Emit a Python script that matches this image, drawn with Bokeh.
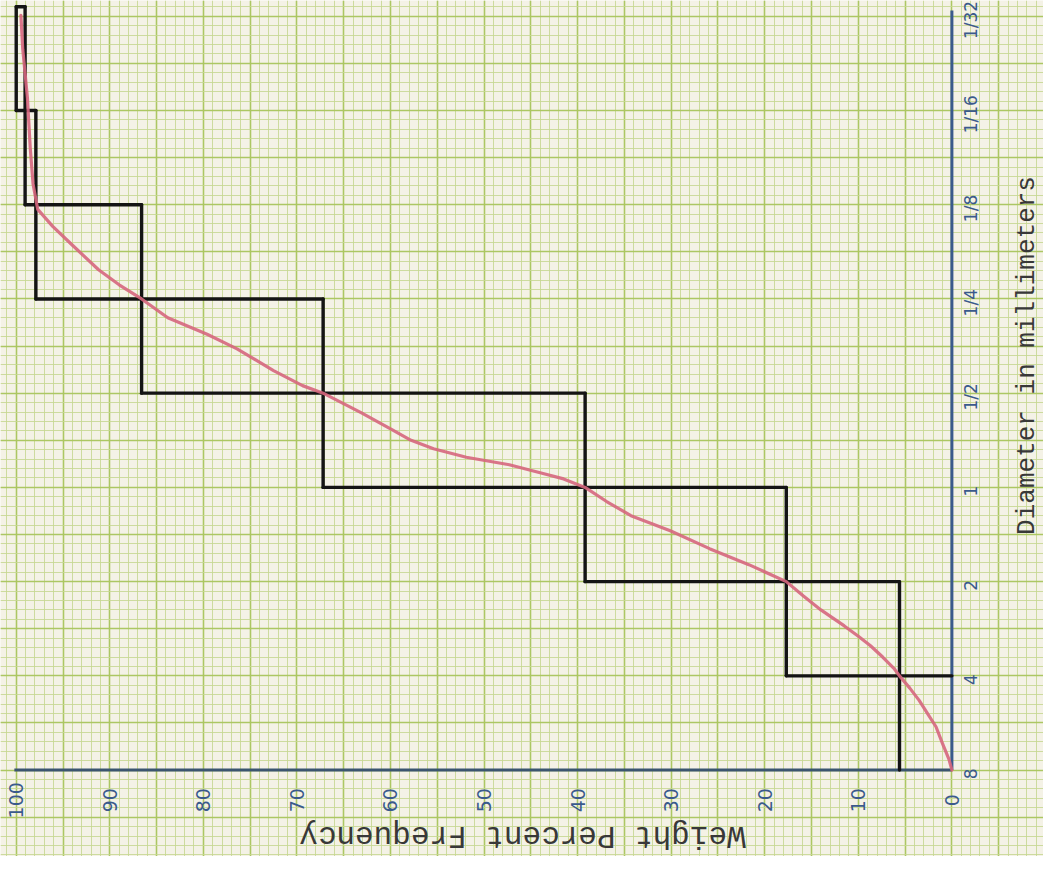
import numpy as np
from bokeh.plotting import figure
from bokeh.models import Range1d, Grid, SingleIntervalTicker
from bokeh.core.properties import value
from bokeh.embed import file_html
from bokeh.resources import INLINE

# ---------------- data ----------------
diam_labels = ["8", "4", "2", "1", "1/2", "1/4", "1/8", "1/16", "1/32"]
diam_phi = [-3, -2, -1, 0, 1, 2, 3, 4, 5]          # log2 position of each diameter (8 mm = -3)
cum_pct = [0.0, 5.6, 17.7, 39.2, 67.2, 86.6, 97.9, 99.05, 100.0]  # cumulative weight % at each diameter
pct_ticks = [0, 10, 20, 30, 40, 50, 60, 70, 80, 90, 100]

curve_pct = [0.0, 0.3, 1.0, 1.7, 2.6, 3.5, 4.5, 5.6, 6.2, 7.4, 8.7, 10.0, 11.5, 14.0,
             15.9, 17.7, 21.7, 25.9, 30.1, 34.3, 36.9, 39.2, 41.5, 43.8, 47.3, 51.9,
             55.4, 57.8, 59.8, 63.1, 67.2, 69.4, 72.5, 76.4, 79.6, 83.8, 86.6, 89.0,
             91.2, 94.1, 96.1, 97.7, 98.2, 98.5, 98.8, 99.3, 99.5]
curve_phi = [-3.0, -2.89, -2.72, -2.54, -2.40, -2.26, -2.13, -2.0, -1.92, -1.80, -1.68,
             -1.58, -1.47, -1.30, -1.15, -1.0, -0.82, -0.65, -0.46, -0.30, -0.15, 0.0,
             0.09, 0.15, 0.24, 0.32, 0.41, 0.50, 0.61, 0.79, 1.0, 1.08, 1.24, 1.47,
             1.625, 1.80, 2.0, 2.15, 2.31, 2.58, 2.77, 2.95, 3.22, 3.6, 4.13, 4.65, 5.01]

x_title = "Weight Percent Frequency"
y_title = "Diameter in millimeters"

# ---------------- figure ----------------
W, H = 1043, 856
p = figure(width=W, height=H, output_backend="svg", toolbar_location=None,
           x_range=Range1d(101.68, -9.79), y_range=Range1d(-3.917, 5.167),
           x_axis_location=None, y_axis_location=None, min_border=0,
           background_fill_color="#f4f2e6", border_fill_color="#f4f2e6",
           outline_line_color=None)

# graph-paper grid
for dim, iv in ((0, 5), (1, 0.5)):
    g = Grid(dimension=dim, ticker=SingleIntervalTicker(interval=iv, num_minor_ticks=5),
             grid_line_color="#a8c45c", grid_line_width=1.6, grid_line_alpha=0.9,
             minor_grid_line_color="#c5d791", minor_grid_line_width=1, minor_grid_line_alpha=0.85)
    p.add_layout(g)

ink = "#3a5a8c"
top_cap = 5.1

# axes lines (hand drawn)
p.segment(x0=[0], y0=[diam_phi[0]], x1=[0], y1=[5.06], line_color=ink, line_width=3)
p.segment(x0=[pct_ticks[-1] + 0.2], y0=[diam_phi[0]], x1=[pct_ticks[0]], y1=[diam_phi[0]],
          line_color="#3b566f", line_width=3)

# step histogram lines
vx0, vy0, vx1, vy1 = [], [], [], []
for k in range(1, len(cum_pct)):
    y0 = diam_phi[k] - 1
    y1 = diam_phi[k] + 1 if diam_phi[k] + 1 < diam_phi[-1] else top_cap
    vx0.append(cum_pct[k]); vx1.append(cum_pct[k]); vy0.append(y0); vy1.append(y1)
for k in range(1, len(cum_pct) - 1):
    vx0.append(cum_pct[k + 1]); vx1.append(cum_pct[k - 1])
    vy0.append(diam_phi[k]); vy1.append(diam_phi[k])
vx0.append(cum_pct[-1]); vx1.append(cum_pct[-2]); vy0.append(top_cap); vy1.append(top_cap)
p.segment(x0=vx0, y0=vy0, x1=vx1, y1=vy1, line_color="#141414", line_width=3.4,
          line_cap="round")

# smooth cumulative curve
p.line(curve_pct, curve_phi, line_color="#d6667d", line_width=3.2, line_alpha=0.9,
       line_join="round", line_cap="round")

# tick labels
p.text(x=pct_ticks, y=[-3.32] * len(pct_ticks), text=[str(t) for t in pct_ticks],
       angle=np.pi / 2, text_font=value("DejaVu Sans"), text_font_size="19px",
       text_color=ink, text_align="center", text_baseline="middle")
p.text(x=[-2.0] * len(diam_phi), y=[d - 0.04 for d in diam_phi], text=diam_labels,
       angle=np.pi / 2, text_font=value("DejaVu Sans"), text_font_size="17px",
       text_color=ink, text_align="center", text_baseline="middle")

# titles (typewritten)
p.text(x=[45.9], y=[-3.69], text=[x_title], angle=np.pi,
       text_font=value("Liberation Mono"), text_font_size="31px", text_color="#383838",
       text_align="center", text_baseline="middle")
p.text(x=[-8.0], y=[1.4], text=[y_title], angle=np.pi / 2,
       text_font=value("Liberation Mono"), text_font_size="26px", text_color="#383838",
       text_align="center", text_baseline="middle")

open("out.html", "w").write(file_html(p, INLINE))
